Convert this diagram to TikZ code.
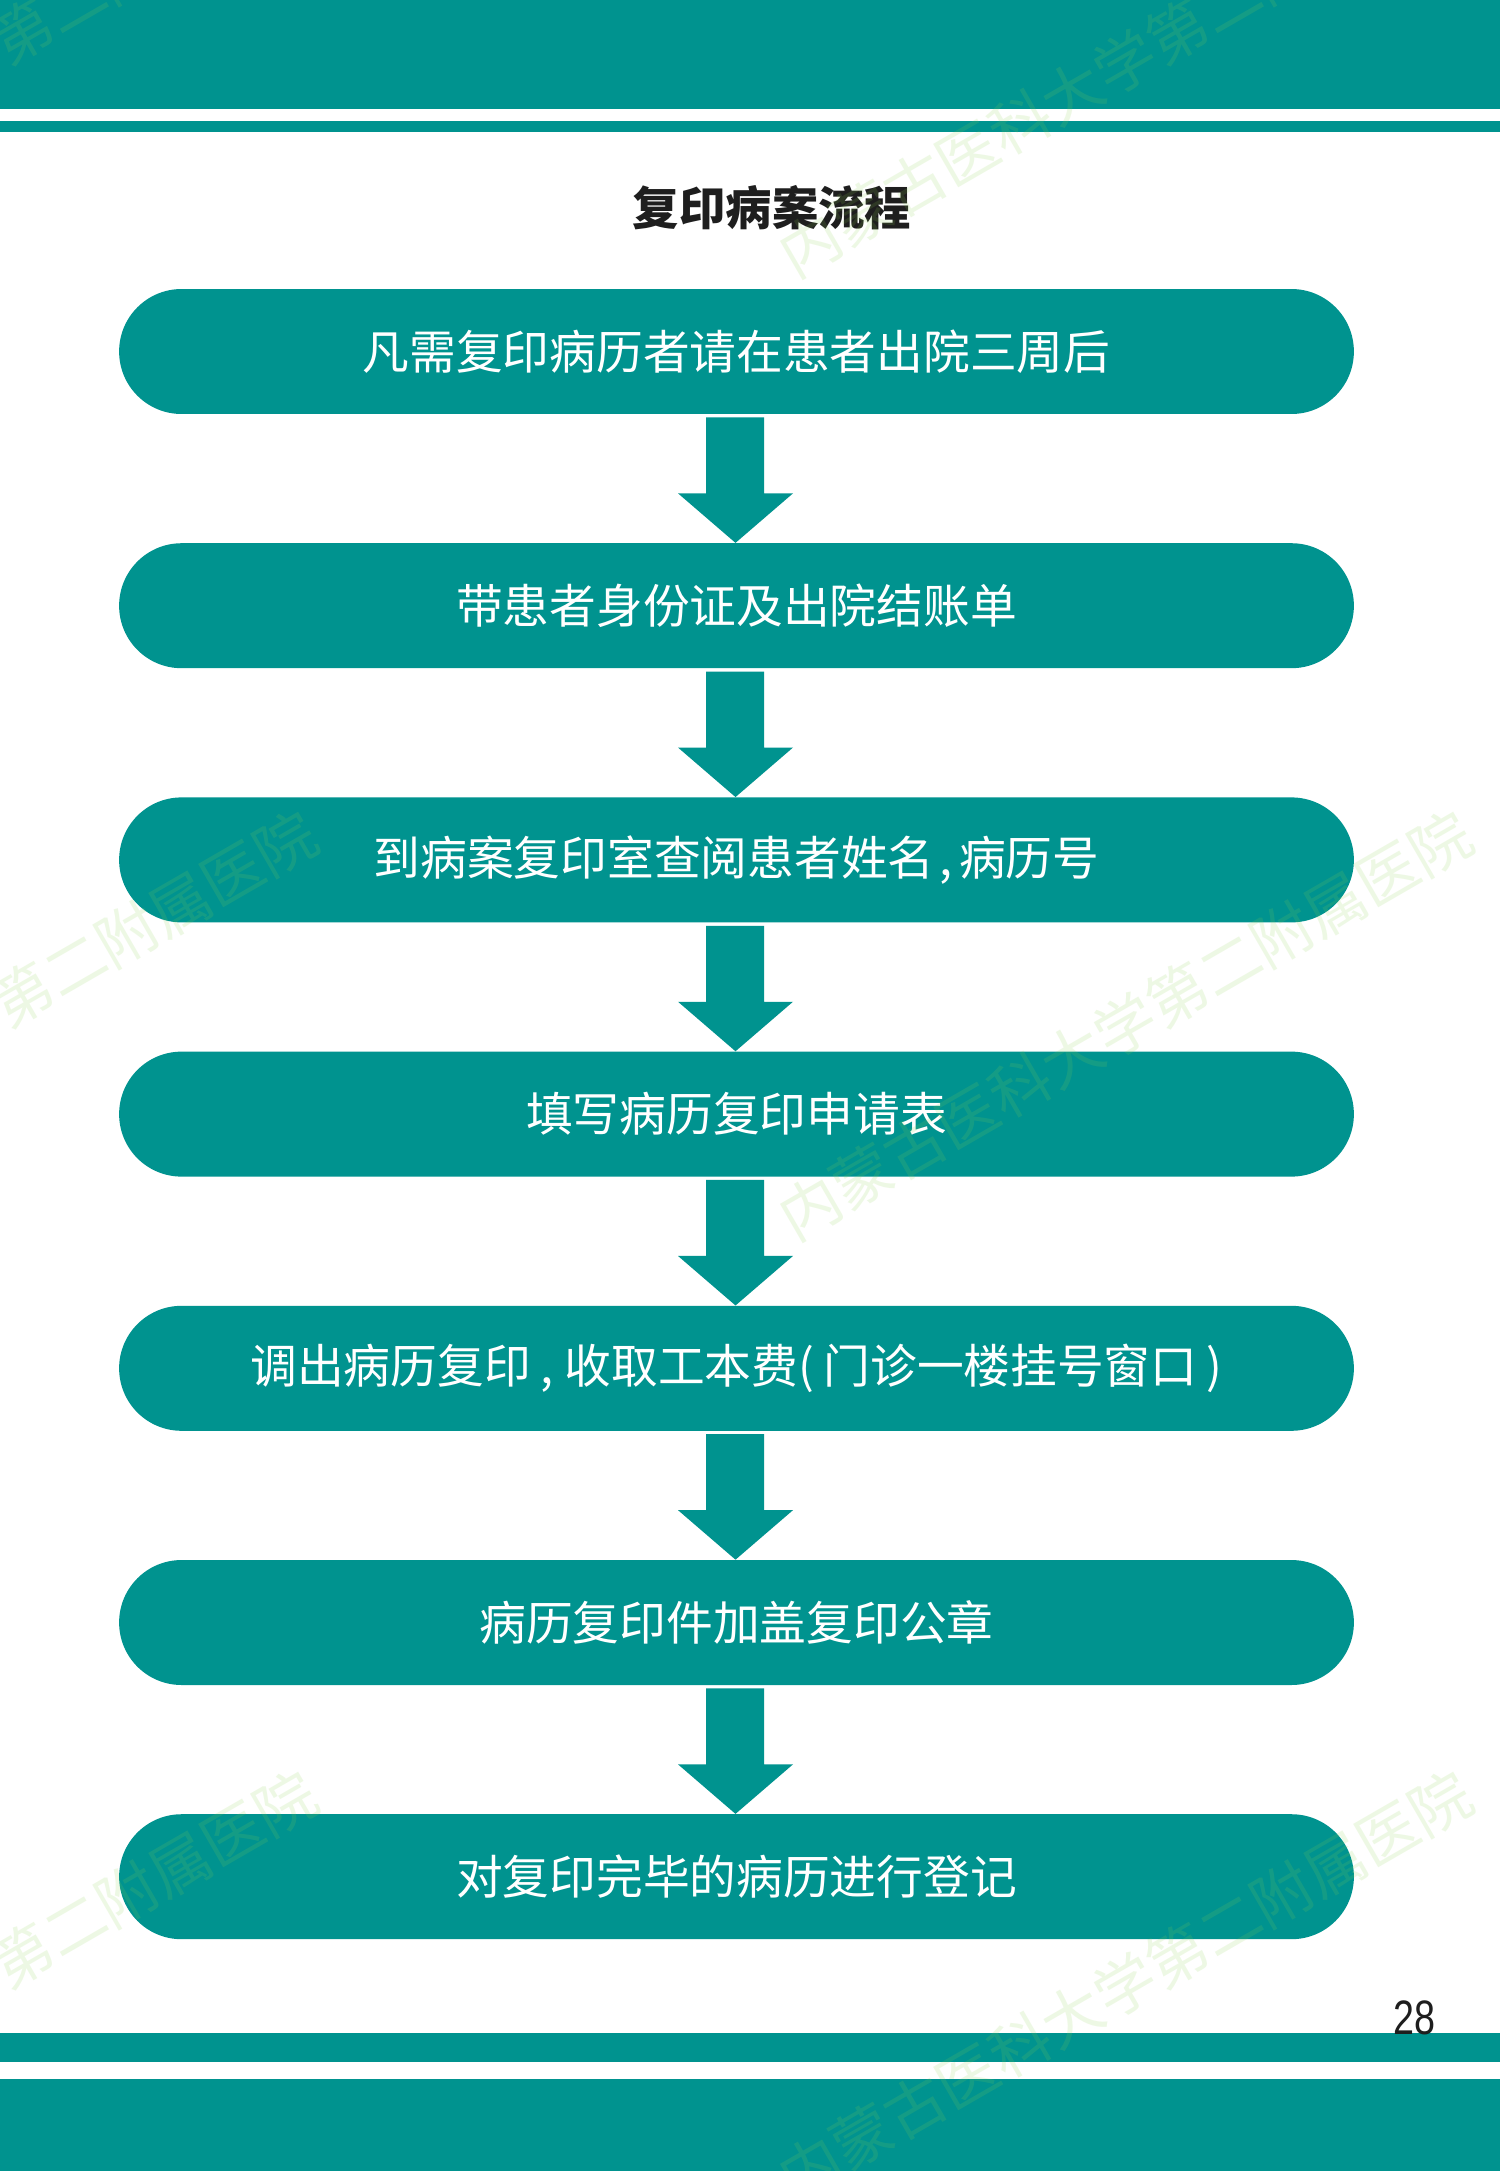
\documentclass[tikz,border=0pt]{standalone}
\usepackage{fontspec}
\usetikzlibrary{calc}
\newfontfamily\cjk{Noto Sans CJK SC}
\newfontfamily\numfont[FakeStretch=0.78]{Liberation Sans}
\definecolor{teal1}{RGB}{0,147,143}
\definecolor{wmgreen}{RGB}{140,210,80}
\definecolor{titleblack}{RGB}{30,30,30}
\tikzset{
  stepbox/.style={draw=none, fill=teal1, rounded corners=1.249cm,
    minimum width=24.7cm, minimum height=2.5cm, inner sep=0pt, text=white,
    font=\cjk\fontsize{26.6pt}{30pt}\selectfont},
  band/.style={fill=teal1, draw=none},
  arrowfill/.style={fill=teal1, draw=none},
  titletext/.style={text=titleblack, inner sep=0pt, font=\cjk\bfseries\fontsize{26.4pt}{30pt}\selectfont},
  pagenum/.style={text=titleblack, inner sep=0pt, font=\numfont\fontsize{27.5pt}{30pt}\selectfont},
  wm/.style={text=wmgreen, text opacity=0.15, rotate=30, inner sep=0pt,
    font=\cjk\fontsize{34.5pt}{36pt}\selectfont},
}
\newcommand\flowarrow[2]{%
  \fill[arrowfill] ($(#1.south)+(-30.5,3)$) -- ($(#1.south)+(27.5,3)$)
    -- ($(#1.south)+(27.5,79)$) -- ($(#1.south)+(56.5,79)$)
    -- ($(#2.north)+(-1,0)$)
    -- ($(#1.south)+(-58.5,79)$) -- ($(#1.south)+(-30.5,79)$) -- cycle;}
\begin{document}
\begin{tikzpicture}[x=0.02cm,y=-0.02cm]
\useasboundingbox (0,0) rectangle (1500,2171);
\fill[white] (0,0) rectangle (1500,2171);
% bands
\fill[band] (0,0) rectangle (1500,109);
\fill[band] (0,121) rectangle (1500,132);
\fill[band] (0,2033) rectangle (1500,2062);
\fill[band] (0,2079) rectangle (1500,2171);
% title
\node[titletext] (title) at (772,208) {复印病案流程};
% steps
\node[stepbox] (b1) at (736.5,351.5) {凡需复印病历者请在患者出院三周后};
\node[stepbox] (b2) at (736.5,605.7) {带患者身份证及出院结账单};
\node[stepbox] (b3) at (736.5,859.9) {到病案复印室查阅患者姓名\hspace{0.1em},\hspace{0.15em}病历号};
\node[stepbox] (b4) at (736.5,1114.1) {填写病历复印申请表};
\node[stepbox] (b5) at (736.5,1368.3) {调出病历复印\hspace{0.2em},\hspace{0.25em}收取工本费(\hspace{0.2em}门诊一楼挂号窗口\hspace{0.2em})};
\node[stepbox] (b6) at (736.5,1622.5) {病历复印件加盖复印公章};
\node[stepbox] (b7) at (736.5,1876.7) {对复印完毕的病历进行登记};
% arrows
\flowarrow{b1}{b2}
\flowarrow{b2}{b3}
\flowarrow{b3}{b4}
\flowarrow{b4}{b5}
\flowarrow{b5}{b6}
\flowarrow{b6}{b7}
% page number
\node[pagenum] (pg) at (1414,2018) {28};
% watermarks
\foreach \cx/\k in {-30/a,1125/b}{
  \foreach \cy/\j in {62/1,1025/2,1985/3}{
    \node[wm] (wm\k\j) at (\cx,\cy) {内蒙古医科大学第二附属医院};
  }
}
\end{tikzpicture}
\end{document}
